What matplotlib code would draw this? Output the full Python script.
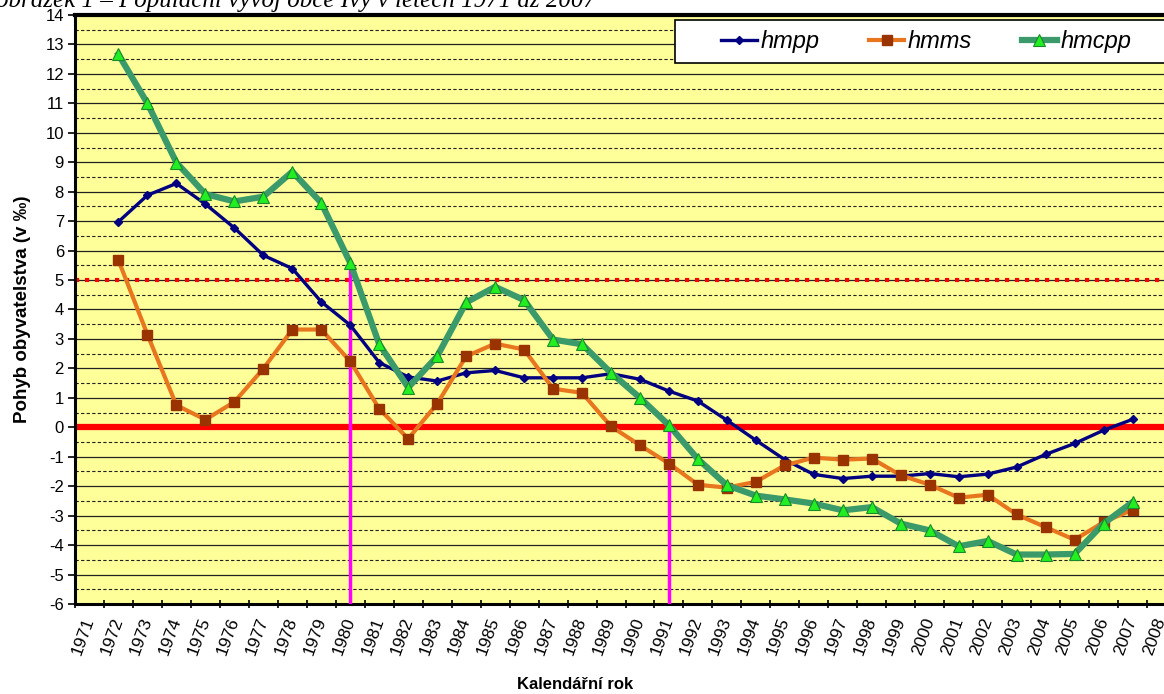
import numpy as np
import matplotlib.pyplot as plt
from matplotlib.ticker import MultipleLocator
from matplotlib.patches import Rectangle

plt.rcParams['font.family'] = ['Liberation Sans', 'DejaVu Sans']
plt.rcParams['axes.unicode_minus'] = False

# category labels on the x axis and the plotted years
year_labels = [str(y) for y in range(1971, 2009)]
years = list(range(1972, 2008))

hmpp = [6.98, 7.88, 8.28, 7.58, 6.77, 5.84, 5.39, 4.26, 3.47, 2.2,
        1.71, 1.57, 1.85, 1.93, 1.68, 1.68, 1.68, 1.82, 1.63, 1.23,
        0.89, 0.24, -0.44, -1.1, -1.6, -1.74, -1.66, -1.66, -1.57, -1.68,
        -1.59, -1.35, -0.92, -0.55, -0.1, 0.27]
hmms = [5.67, 3.15, 0.75, 0.26, 0.86, 1.99, 3.32, 3.32, 2.24, 0.63,
        -0.39, 0.8, 2.41, 2.84, 2.64, 1.31, 1.17, 0.03, -0.61, -1.23,
        -1.95, -2.05, -1.85, -1.29, -1.03, -1.1, -1.06, -1.63, -1.95, -2.39,
        -2.29, -2.96, -3.39, -3.82, -3.22, -2.8]
hmcpp = [12.66, 11.0, 8.99, 7.92, 7.67, 7.83, 8.68, 7.62, 5.58, 2.82,
         1.35, 2.41, 4.24, 4.77, 4.32, 2.98, 2.82, 1.85, 1.0, 0.07,
         -1.08, -1.97, -2.32, -2.45, -2.59, -2.82, -2.71, -3.27, -3.5, -4.04,
         -3.86, -4.32, -4.32, -4.3, -3.27, -2.54]

limit_level = 5
marked_years = [1980, 1991]

fig = plt.figure(figsize=(11.64, 6.94), dpi=100)
ax = fig.add_axes([75 / 1164, 90 / 694, 1101 / 1164, 589 / 694])
ax.set_facecolor('#FFFF99')

ax.set_xlim(1970.5, 2008.5)
ax.set_ylim(-6, 14)

# y grid: solid at whole numbers, dashed at halves
ax.set_yticks(range(-6, 15))
ax.yaxis.set_minor_locator(MultipleLocator(0.5))
ax.grid(which='major', axis='y', color='#222222', lw=0.9, zorder=1)
ax.grid(which='minor', axis='y', color='#222222', lw=0.8, ls=(0, (3, 2)), zorder=1)
ax.tick_params(axis='y', which='minor', length=0)
ax.tick_params(axis='y', which='major', labelsize=12, length=5, width=1.2, pad=3)

# x labels on categories, tick marks between them
ax.set_xticks(range(1971, 2009))
ax.set_xticklabels(year_labels, rotation=70, ha='right', va='center',
                   rotation_mode='anchor', fontsize=12.5)
ax.tick_params(axis='x', which='major', length=0, pad=10)
ax.set_xticks(np.arange(1970.5, 2009, 1), minor=True)
ax.tick_params(axis='x', which='minor', length=6, width=1.2, direction='inout')

for s in ['left', 'bottom']:
    ax.spines[s].set_linewidth(2.2)
ax.spines['top'].set_linewidth(3)
ax.spines['right'].set_visible(False)

# reference lines
ax.axhline(0, color='#FF0000', lw=4.5, zorder=2)
ax.axhline(limit_level, color='#FF0000', lw=3, ls=(0, (1, 1.4)), zorder=2)
ax.vlines(marked_years[0], -6, hmcpp[years.index(marked_years[0])], color='#FF00FF', lw=2.5, zorder=3)
ax.vlines(marked_years[1], -6, 0, color='#FF00FF', lw=2.5, zorder=3)

ax.plot(years, hmpp, color='#000080', lw=2.4, marker='D', ms=4,
        mfc='#000080', mec='#000080', label='hmpp', zorder=4)
ax.plot(years, hmms, color='#E8761E', lw=3, marker='s', ms=7,
        mfc='#993300', mec='#993300', label='hmms', zorder=4)
ax.plot(years, hmcpp, color='#3A9A6A', lw=4.5, marker='^', ms=8,
        mfc='#22EE22', mec='#1A8A2A', mew=0.8, label='hmcpp', zorder=5)

# legend box running off the right edge, like the cropped original
ax.add_patch(Rectangle((0.545, 0.9185), 0.6, 0.073, transform=ax.transAxes,
                       facecolor='white', edgecolor='black', lw=1.2,
                       clip_on=False, zorder=9))
leg = ax.legend(loc='center left', bbox_to_anchor=(0.587, 0.955), ncol=3,
                frameon=False, prop={'style': 'italic', 'size': 17},
                handlelength=1.5, handletextpad=0.15, columnspacing=2.1,
                borderpad=0, borderaxespad=0)
leg.set_zorder(10)

ax.set_ylabel('Pohyb obyvatelstva (v ‰)', fontsize=13.5, fontweight='bold', labelpad=10)
fig.text(575 / 1164, 2 / 694, 'Kalendářní rok', ha='center', va='bottom',
         fontsize=12, fontweight='bold')

fig.text(-4 / 1164, 1 - 7 / 694, 'obrázek 1 – Populační vývoj obce Ivy v letech 1971 až 2007',
         family=['Liberation Serif', 'DejaVu Serif'], style='italic',
         fontsize=18, ha='left', va='baseline')

fig.savefig('out.png', dpi=100)
